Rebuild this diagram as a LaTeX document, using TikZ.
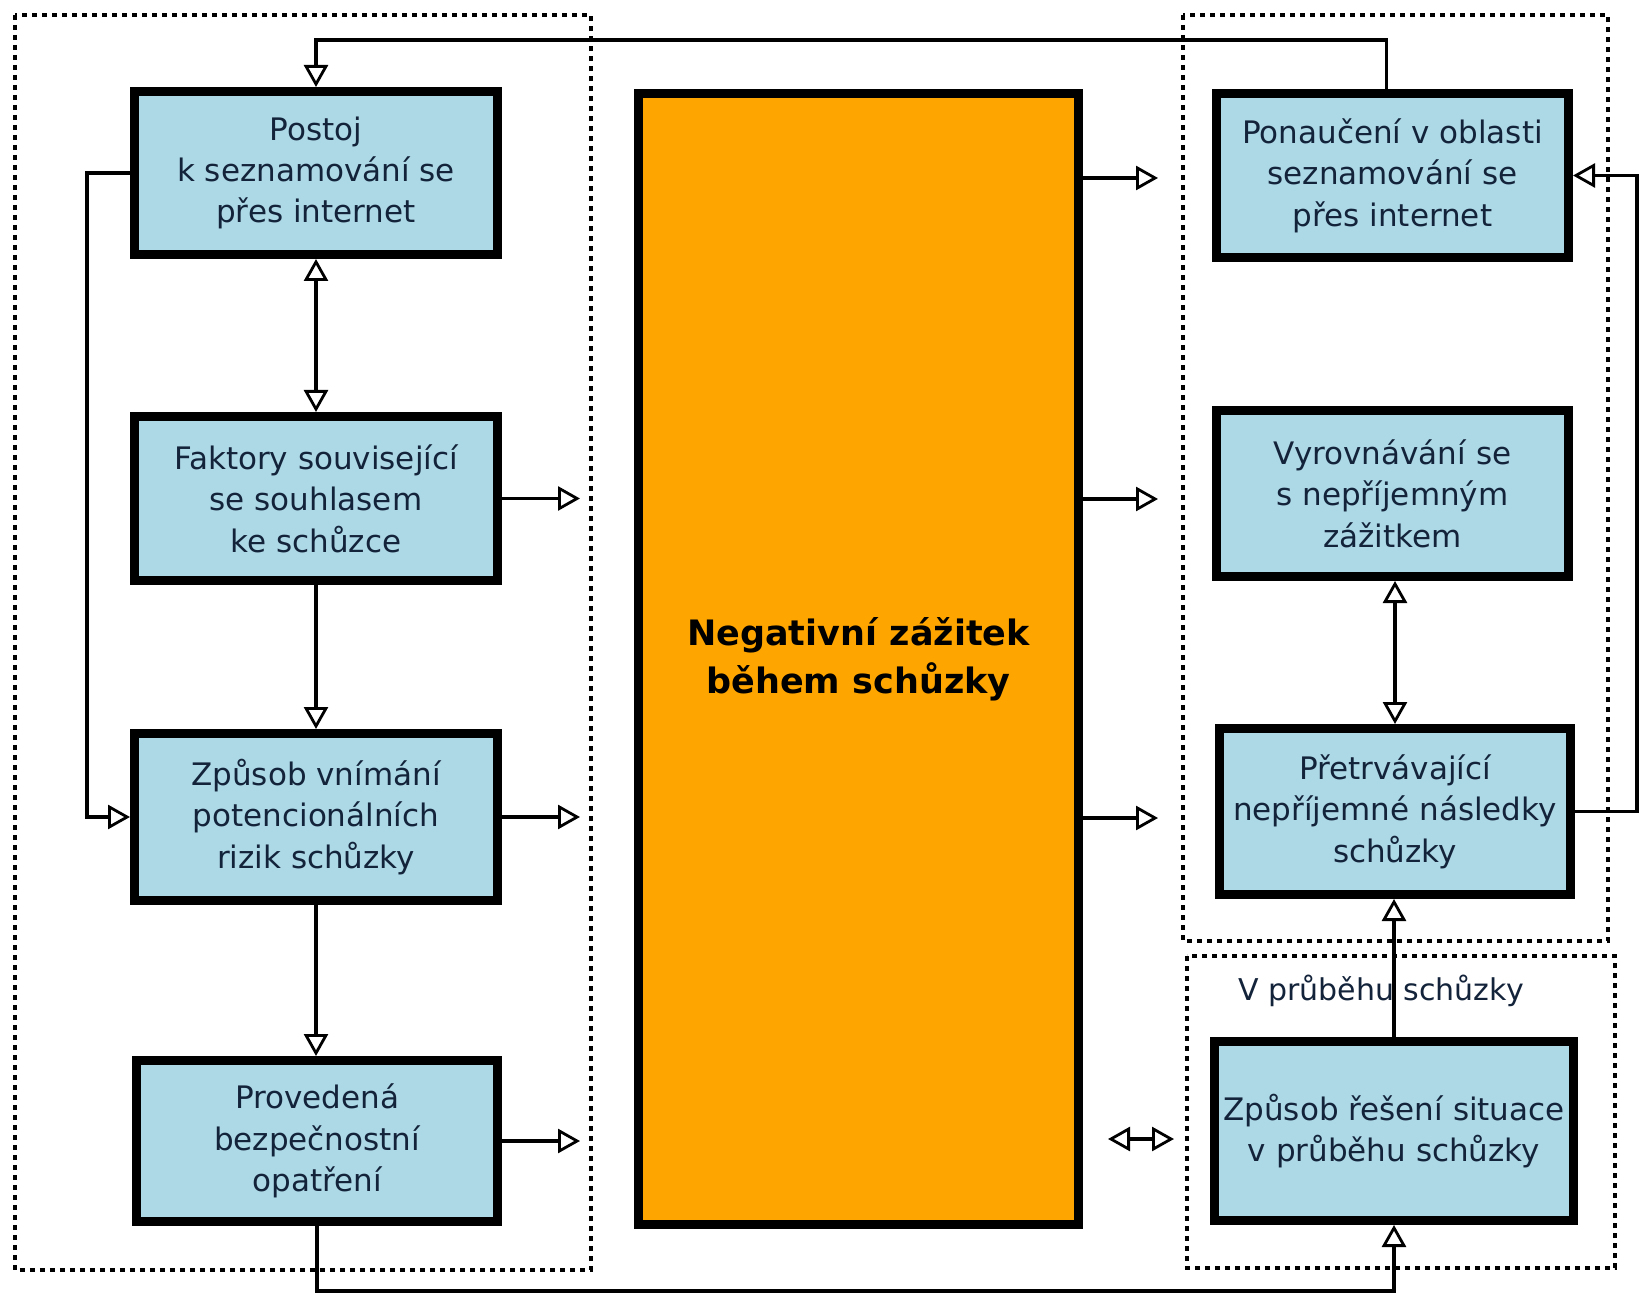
\documentclass[tikz,border=0pt]{standalone}
\usepackage{fontspec}
\setmainfont{DejaVu Sans}
\usetikzlibrary{arrows.meta,calc}
\definecolor{boxblue}{HTML}{ADD8E6}
\definecolor{boxorange}{HTML}{FFA500}
\definecolor{txt}{HTML}{13233A}
\begin{document}
\begin{tikzpicture}[x=0.5pt,y=-0.5pt,
  >={Triangle[open,fill=white,length=11pt,width=12pt,line width=1.4pt]},
  box/.style={draw=black, line width=4.5pt, fill=boxblue, text=txt, align=center,
    inner sep=0pt, font=\fontsize{15.5}{20.7}\selectfont},
  bigbox/.style={draw=black, line width=4.5pt, fill=boxorange, text=black, align=center,
    inner sep=0pt, font=\fontsize{17.5}{24}\selectfont\bfseries},
  conn/.style={line width=1.7pt, ->},
  dconn/.style={line width=1.7pt, <->},
  grp/.style={line width=1.8pt, dash pattern=on 2.3pt off 2.7pt},
  lbl/.style={text=txt, inner sep=0pt, font=\fontsize{15}{20}\selectfont}]
\useasboundingbox (0,0) rectangle (1639,1294);
\fill[white] (0,0) rectangle (1639,1294);

% group frames
\draw[grp] (15,15) rectangle (591,1270);
\draw[grp] (1183,15) rectangle (1608,941);
\draw[grp] (1187,956) rectangle (1615,1268);

% left column
\node[box, minimum width=181.5pt, minimum height=81.5pt] (post) at (316,173)
  {Postoj\\k seznamování se\\přes internet};
\node[box, minimum width=181.5pt, minimum height=82pt] (fak) at (316,498.5)
  {Faktory související\\se souhlasem\\ke schůzce};
\node[box, minimum width=181.5pt, minimum height=83.5pt] (vnim) at (316,817)
  {Způsob vnímání\\potencionálních\\rizik schůzky};
\node[box, minimum width=180.5pt, minimum height=80.5pt] (prov) at (317,1141)
  {Provedená\\bezpečnostní\\opatření};

% centre
\node[bigbox, minimum width=220pt, minimum height=565.5pt] (neg) at (858.5,659)
  {Negativní zážitek\\během schůzky};

% right column
\node[box, minimum width=176pt, minimum height=82pt] (pon) at (1392.5,175.5)
  {Ponaučení v oblasti\\seznamování se\\přes internet};
\node[box, minimum width=176pt, minimum height=83pt] (vyr) at (1392.5,493.5)
  {Vyrovnávání se\\s nepříjemným\\zážitkem};
\node[box, minimum width=175.5pt, minimum height=83pt] (pret) at (1395,811.5)
  {Přetrvávající\\nepříjemné následky\\schůzky};
\node[lbl] (vpr) at (1381,991) {V průběhu schůzky};
\node[box, minimum width=179.5pt, minimum height=89.5pt] (res) at (1394,1131)
  {Způsob řešení situace\\v průběhu schůzky};

% free ends
\coordinate (fakE) at (580,498.5);
\coordinate (vnimE) at (580,817);
\coordinate (provE) at (580,1141);
\coordinate (r1) at (1158,178);
\coordinate (r2) at (1158,499);
\coordinate (r3) at (1158,818);
\coordinate (da1) at (1108,1139);
\coordinate (da2) at (1174,1139);
\coordinate (ponT) at ($(pon.north)+(-6,0)$);

% connectors
\draw[conn] (ponT) -- (ponT |- 0,40) -| (post.north);
\draw[dconn] (post.south) -- (post.south |- fak.north);
\draw[conn] (fak.south) -- (fak.south |- vnim.north);
\draw[conn] (vnim.south) -- (vnim.south |- prov.north);
\draw[conn] (post.west) -- ++(-43,0) |- (vnim.west);
\draw[conn] (fak.east) -- (fakE);
\draw[conn] (vnim.east) -- (vnimE);
\draw[conn] (prov.east) -- (provE);
\draw[conn] (neg.east |- r1) -- (r1);
\draw[conn] (neg.east |- r2) -- (r2);
\draw[conn] (neg.east |- r3) -- (r3);
\draw[dconn] (da1) -- (da2);
\draw[dconn] (pret.north |- vyr.south) -- (pret.north);
\draw[conn] (res.north) -- (res.north |- pret.south);
\draw[conn] (prov.south) -- (prov.south |- 0,1291) -| (res.south);
\draw[conn] (pret.east) -- ++(62,0) |- (pon.east);
\end{tikzpicture}
\end{document}
